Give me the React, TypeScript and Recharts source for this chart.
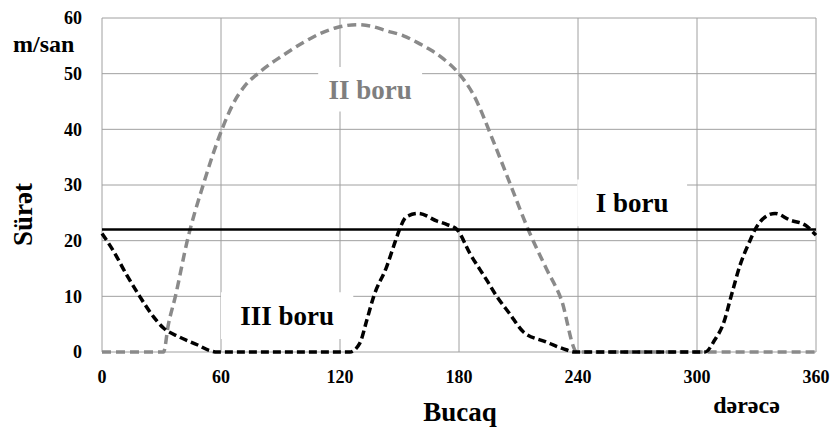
import {
  CartesianGrid,
  Label,
  Line,
  LineChart,
  ReferenceArea,
  XAxis,
  YAxis,
} from "recharts";

// tick labels
const angleTicks = [0, 60, 120, 180, 240, 300, 360];
const speedTicks = [0, 10, 20, 30, 40, 50, 60];

// I boru: constant speed
const anglesI = [0, 360];
const speedI = [22, 22];

// II boru
const anglesII = [
  0, 31, 33.5, 37, 43, 51, 60.5, 66, 72, 78.5, 85, 90, 101.5, 110, 118.5,
  128.5, 136, 143.5, 152, 160, 166, 172, 180, 187, 197.5, 206, 215.5, 224,
  231.5, 239.5, 360,
];
const speedII = [
  0, 0, 5, 10, 20, 30, 40, 44.5, 47.8, 50, 51.8, 53, 55.6, 57.2, 58.3, 58.8,
  58.5, 57.7, 56.8, 55.4, 54.2, 52.7, 50, 46.4, 37.7, 30, 21.5, 15, 9.5, 0, 0,
];

// III boru
const anglesIII = [
  0, 6, 12.5, 19, 26, 31, 39, 48, 54, 58, 125, 130, 133.5, 137, 143.5, 148,
  150, 153.5, 159.5, 169, 174, 179, 185.5, 194, 199, 205.5, 212.5, 224, 234,
  238, 304, 309, 313.3, 317.2, 321.7, 326.7, 329.3, 333.5, 339.4, 346.9, 354.5,
  360,
];
const speedIII = [
  21.3, 18, 13.8, 10, 6.3, 4.3, 2.7, 1.3, 0.3, 0, 0, 1.6, 5.7, 10, 15.3, 20,
  22, 24.3, 24.9, 23.5, 22.9, 22, 17.7, 12.9, 10, 6.9, 3.6, 1.8, 0.4, 0, 0,
  2.2, 5.1, 10, 15.6, 20, 22, 24, 24.9, 23.7, 22.8, 21,
];

const toRows = (angles: number[], speeds: number[]) =>
  angles.map((deg, i) => ({ deg, v: speeds[i] }));

const dataI = toRows(anglesI, speedI);
const dataII = toRows(anglesII, speedII);
const dataIII = toRows(anglesIII, speedIII);

const serif = "Liberation Serif, DejaVu Serif, serif";
const tickStyle = {
  style: { fontFamily: serif, fontWeight: 700 },
  fontSize: 18,
  fill: "#000",
};

const labelProps = {
  position: "center" as const,
  style: { fontFamily: serif, fontWeight: 700 },
  fontSize: 27,
};

export default function App() {
  return (
    <div
      style={{
        position: "absolute",
        left: 0,
        top: 0,
        width: 834,
        height: 427,
        background: "#fff",
      }}
    >
      <LineChart
        width={834}
        height={427}
        margin={{ top: 18, right: 18, left: 0, bottom: 0 }}
      >
        <CartesianGrid stroke="#a0a0a0" strokeWidth={1} />
        <XAxis
          type="number"
          dataKey="deg"
          domain={[0, 360]}
          ticks={angleTicks}
          height={75}
          axisLine={false}
          tickLine={false}
          tickSize={6}
          tickMargin={12}
          tick={tickStyle}
          allowDuplicatedCategory={false}
        />
        <YAxis
          type="number"
          dataKey="v"
          domain={[0, 60]}
          ticks={speedTicks}
          width={102}
          axisLine={false}
          tickLine={false}
          tickSize={6}
          tickMargin={14}
          tick={tickStyle}
        />

        <ReferenceArea x1={109} x2={161.4} y1={43.2} y2={51.2} fill="#fff" fillOpacity={1} stroke="none">
          <Label value="II boru" fill="#7f7f7f" {...labelProps} />
        </ReferenceArea>
        <ReferenceArea x1={239.6} x2={295} y1={22.6} y2={31} fill="#fff" fillOpacity={1} stroke="none">
          <Label value="I boru" fill="#000" {...labelProps} />
        </ReferenceArea>
        <ReferenceArea x1={60} x2={126.7} y1={2.35} y2={10.75} fill="#fff" fillOpacity={1} stroke="none">
          <Label value="III boru" fill="#000" {...labelProps} />
        </ReferenceArea>

        <Line
          data={dataII}
          dataKey="v"
          name="II boru"
          type="monotone"
          stroke="#8a8a8a"
          strokeWidth={3.5}
          strokeDasharray="9 5"
          dot={false}
          isAnimationActive={false}
        />
        <Line
          data={dataIII}
          dataKey="v"
          name="III boru"
          type="monotone"
          stroke="#000"
          strokeWidth={3.5}
          strokeDasharray="8 4"
          dot={false}
          isAnimationActive={false}
        />
        <Line
          data={dataI}
          dataKey="v"
          name="I boru"
          type="linear"
          stroke="#000"
          strokeWidth={2.5}
          dot={false}
          isAnimationActive={false}
        />
      </LineChart>

      <svg
        width={834}
        height={427}
        style={{
          position: "absolute",
          left: 0,
          top: 0,
          pointerEvents: "none",
          fontFamily: serif,
          fontWeight: 700,
        }}
      >
        <text x={13} y={51.5} fontSize={24}>
          m/san
        </text>
        <text
          x={0}
          y={0}
          fontSize={27}
          textAnchor="middle"
          transform="translate(32 214.5) rotate(-90)"
        >
          Sürət
        </text>
        <text x={460} y={421} fontSize={27} textAnchor="middle">
          Bucaq
        </text>
        <text x={746.5} y={413} fontSize={24} textAnchor="middle">
          dərəcə
        </text>
      </svg>
    </div>
  );
}
